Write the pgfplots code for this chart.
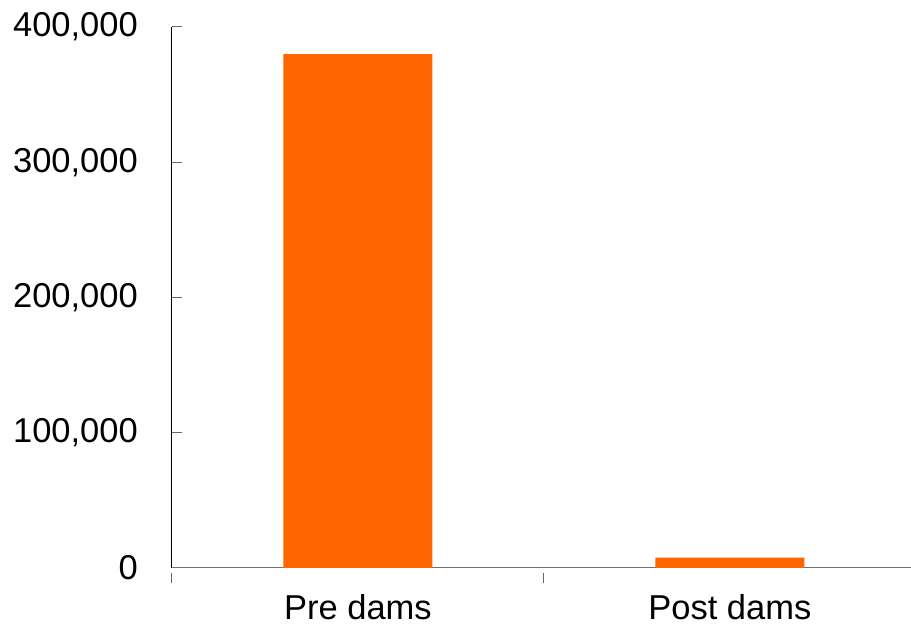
\documentclass[border=0pt]{standalone}
\usepackage{pgfplots}
\pgfplotsset{compat=1.18}
\usepackage{fontspec}
\setmainfont{Liberation Sans}
\definecolor{barorange}{HTML}{FF6600}
\begin{document}
\begin{tikzpicture}
\useasboundingbox (-172pt,-58pt) rectangle (739pt,568pt);
\begin{axis}[
  at={(0pt,0pt)}, anchor=south west,
  scale only axis,
  width=739pt, height=541pt,
  xmin=-0.5, xmax=1.487,
  ymin=0, ymax=400000,
  axis x line*=bottom, axis y line*=left,
  x axis line style={draw=gray!90!black, line width=1pt},
  y axis line style={draw=black, line width=1pt},
  ytick={0,100000,200000,300000,400000},
  yticklabels={0,{100,000},{200,000},{300,000},{400,000}},
  scaled y ticks=false,
  tick align=center, major tick length=10pt,
  ytick style={draw=gray!80!black, line width=1pt, xshift=5pt},
  xtick style={draw=gray!80!black, line width=1pt, yshift=-5pt},
  xtick={-0.5,0.5},
  xticklabels={,},
  extra x ticks={0,1},
  extra x tick labels={Pre dams, Post dams},
  extra x tick style={major tick length=0pt, xticklabel style={anchor=north, inner sep=0pt, yshift=-26.5pt}},
  yticklabel style={font=\fontsize{34.5}{40}\selectfont, anchor=east, inner sep=0pt, xshift=-29pt},
  xticklabel style={font=\fontsize{34.5}{40}\selectfont},
  ybar, bar width=149pt,
]
\addplot[fill=barorange, draw=none] coordinates {(0,380000) (1,7700)};
\end{axis}
\end{tikzpicture}
\end{document}
